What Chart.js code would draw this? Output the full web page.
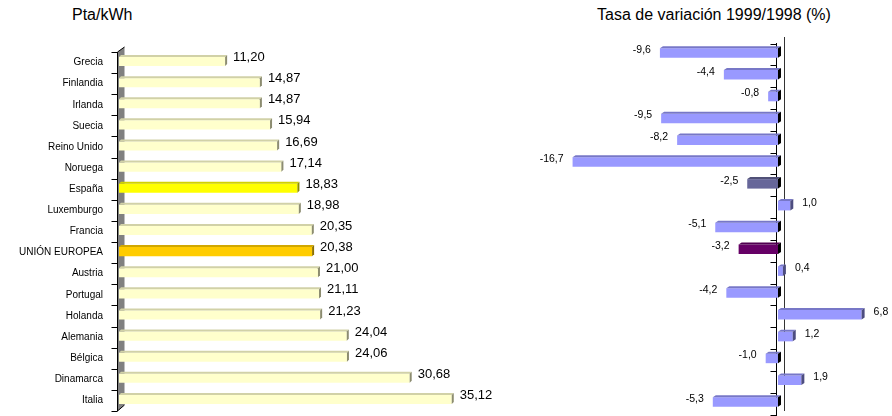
<!DOCTYPE html>
<html>
<head>
<meta charset="utf-8">
<script src="https://cdn.jsdelivr.net/npm/chart.js@4"></script>
<style>
  html, body { margin: 0; padding: 0; background: #fff; overflow: hidden; }
  body { width: 892px; height: 416px; position: relative; font-family: 'Liberation Sans', Arial, sans-serif; }
  canvas { position: absolute; top: 0; }
  #leftChart { left: 0; }
  #rightChart { left: 520px; }
  .title { position: absolute; top: 6px; font-size: 16px; color: #000; white-space: nowrap; }
</style>
</head>
<body>
<div class="title" style="left:72px">Pta/kWh</div>
<div class="title" style="left:597px">Tasa de variación 1999/1998 (%)</div>
<canvas id="leftChart" width="520" height="416"></canvas>
<canvas id="rightChart" width="372" height="416"></canvas>
<script>
// Data
const paises = ['Grecia', 'Finlandia', 'Irlanda', 'Suecia', 'Reino Unido', 'Noruega', 'España', 'Luxemburgo',
  'Francia', 'UNIÓN EUROPEA', 'Austria', 'Portugal', 'Holanda', 'Alemania', 'Bélgica', 'Dinamarca', 'Italia'];
const precios = [11.20, 14.87, 14.87, 15.94, 16.69, 17.14, 18.83, 18.98, 20.35, 20.38, 21.00, 21.11, 21.23, 24.04, 24.06, 30.68, 35.12];
const variacion = [-9.6, -4.4, -0.8, -9.5, -8.2, -16.7, -2.5, 1.0, -5.1, -3.2, 0.4, -4.2, 6.8, 1.2, -1.0, 1.9, -5.3];

const FONT = "'Liberation Sans', Arial, sans-serif";

function shade(hex, f) {
  const n = parseInt(hex.slice(1), 16);
  const r = Math.round(((n >> 16) & 255) * f), g = Math.round(((n >> 8) & 255) * f), b = Math.round((n & 255) * f);
  return 'rgb(' + r + ',' + g + ',' + b + ')';
}

const leftColors = paises.map(p => p === 'España' ? '#FFFF00' : (p === 'UNIÓN EUROPEA' ? '#FFCC00' : '#FFFFCC'));
const rightColors = paises.map(p => p === 'España' ? '#666699' : (p === 'UNIÓN EUROPEA' ? '#660066' : '#9999FF'));

// fake 3D faces on top and end of each bar
function bars3d(opts) {
  return {
    id: 'bars3d',
    afterDatasetsDraw(chart) {
      const ctx = chart.ctx;
      const meta = chart.getDatasetMeta(0);
      const dx = opts.dx, dy = opts.dy;
      meta.data.forEach((bar, i) => {
        const x0 = Math.min(bar.x, bar.base), x1 = Math.max(bar.x, bar.base);
        const top = bar.y - bar.height / 2, bottom = bar.y + bar.height / 2;
        const col = chart.data.datasets[0].backgroundColor[i];
        ctx.save();
        ctx.fillStyle = shade(col, opts.topShade);
        ctx.beginPath();
        ctx.moveTo(x0, top); ctx.lineTo(x1, top); ctx.lineTo(x1 + dx, top - dy); ctx.lineTo(x0 + dx, top - dy);
        ctx.closePath(); ctx.fill();
        const neg = bar.x < bar.base;
        ctx.fillStyle = neg ? opts.negSide : shade(col, opts.sideShade);
        ctx.beginPath();
        ctx.moveTo(x1, top); ctx.lineTo(x1 + dx, top - dy); ctx.lineTo(x1 + dx, bottom - dy); ctx.lineTo(x1, bottom);
        ctx.closePath(); ctx.fill();
        ctx.restore();
      });
    }
  };
}

// value labels
function valueLabels(opts) {
  return {
    id: 'valueLabels',
    afterDraw(chart) {
      const ctx = chart.ctx;
      const meta = chart.getDatasetMeta(0);
      const vals = chart.data.datasets[0].data;
      ctx.save();
      ctx.font = opts.font;
      ctx.fillStyle = '#000';
      ctx.textBaseline = 'middle';
      meta.data.forEach((bar, i) => {
        const v = vals[i];
        const txt = v.toFixed(opts.decimals).replace('.', ',');
        if (v < 0) {
          ctx.textAlign = 'right';
          ctx.fillText(txt, bar.x - opts.gap, bar.y - opts.lift);
        } else {
          ctx.textAlign = 'left';
          ctx.fillText(txt, bar.x + opts.dx + opts.gap, bar.y - opts.lift);
        }
      });
      ctx.restore();
    }
  };
}

// grey wall, ticks and category names of left chart
const leftWall = {
  id: 'leftWall',
  beforeDatasetsDraw(chart) {
    const ctx = chart.ctx, a = chart.chartArea;
    const x = a.left - 1.5;
    ctx.save();
    ctx.fillStyle = '#808080';
    ctx.beginPath();
    ctx.moveTo(x, a.top + 1); ctx.lineTo(x + 7, a.top - 4); ctx.lineTo(x + 7, a.bottom - 5); ctx.lineTo(x, a.bottom + 1);
    ctx.closePath(); ctx.fill();
    ctx.strokeStyle = '#000';
    ctx.lineWidth = 1;
    ctx.beginPath();
    ctx.moveTo(x + 7, a.top - 4); ctx.lineTo(x, a.top + 1); ctx.lineTo(x, a.bottom + 1); ctx.lineTo(x + 7, a.bottom - 5);
    ctx.stroke();
    const n = chart.data.labels.length;
    const band = (a.bottom - a.top) / n;
    for (let i = 0; i <= n; i++) {
      const y = Math.round(a.top + 1 + i * band) + 0.5;
      ctx.beginPath(); ctx.moveTo(x - 6, y); ctx.lineTo(x, y); ctx.stroke();
    }
    // category names, placed with the y scale
    ctx.fillStyle = '#000';
    ctx.font = '10px ' + FONT;
    ctx.textAlign = 'right';
    ctx.textBaseline = 'middle';
    chart.data.labels.forEach((lab, i) => {
      ctx.fillText(lab, a.left - 16, chart.scales.y.getPixelForValue(i) + 1);
    });
    ctx.restore();
  }
};

// zero axis of right chart
const rightAxis = {
  id: 'rightAxis',
  beforeDatasetsDraw(chart) {
    const ctx = chart.ctx, a = chart.chartArea;
    const x0 = chart.scales.x.getPixelForValue(0);
    const xa = Math.round(x0 - 1.5) + 0.5, xb = Math.round(x0 + 6) + 0.5;
    ctx.save();
    ctx.strokeStyle = '#000';
    ctx.lineWidth = 1;
    ctx.beginPath(); ctx.moveTo(xa, a.top + 1); ctx.lineTo(xa, 416); ctx.stroke();
    ctx.strokeStyle = '#333';
    ctx.beginPath(); ctx.moveTo(xb, a.top - 5); ctx.lineTo(xb, a.bottom - 2); ctx.stroke();
    ctx.strokeStyle = '#000';
    const n = chart.data.labels.length;
    const band = (a.bottom - a.top) / n;
    for (let i = 0; i <= n; i++) {
      const y = Math.round(a.top + 1.5 + i * band) + 0.5;
      ctx.beginPath(); ctx.moveTo(xa - 6, y); ctx.lineTo(xa, y); ctx.stroke();
    }
    ctx.restore();
  }
};

// Left chart: price
new Chart(document.getElementById('leftChart'), {
  type: 'bar',
  data: {
    labels: paises,
    datasets: [{
      data: precios,
      backgroundColor: leftColors,
      borderWidth: 0,
      categoryPercentage: 1,
      barPercentage: 0.43
    }]
  },
  options: {
    indexAxis: 'y',
    responsive: false,
    devicePixelRatio: 1,
    animation: false,
    layout: { padding: { top: 51, bottom: 6, left: 119, right: 22 } },
    plugins: { legend: { display: false }, tooltip: { enabled: false } },
    scales: {
      x: { display: false, min: 0, max: 40 },
      y: { display: false }
    }
  },
  plugins: [leftWall, bars3d({ dx: 2, dy: 2, topShade: 0.82, sideShade: 0.55, negSide: '#000' }),
    valueLabels({ font: '13px ' + FONT, decimals: 2, gap: 6, lift: 4, dx: 2 })]
});

// Right chart: variation rate
new Chart(document.getElementById('rightChart'), {
  type: 'bar',
  data: {
    labels: paises,
    datasets: [{
      data: variacion,
      backgroundColor: rightColors,
      borderWidth: 0,
      categoryPercentage: 1,
      barPercentage: 0.435
    }]
  },
  options: {
    indexAxis: 'y',
    responsive: false,
    devicePixelRatio: 1,
    animation: false,
    layout: { padding: { top: 42, bottom: 3, left: 12, right: 0 } },
    plugins: { legend: { display: false }, tooltip: { enabled: false } },
    scales: {
      x: { display: false, min: -20, max: 9.27 },
      y: { display: false }
    }
  },
  plugins: [rightAxis, bars3d({ dx: 3, dy: 2, topShade: 0.78, sideShade: 0.5, negSide: '#000' }),
    valueLabels({ font: '10.5px ' + FONT, decimals: 1, gap: 9, lift: 3, dx: 3 })]
});
</script>
</body>
</html>
